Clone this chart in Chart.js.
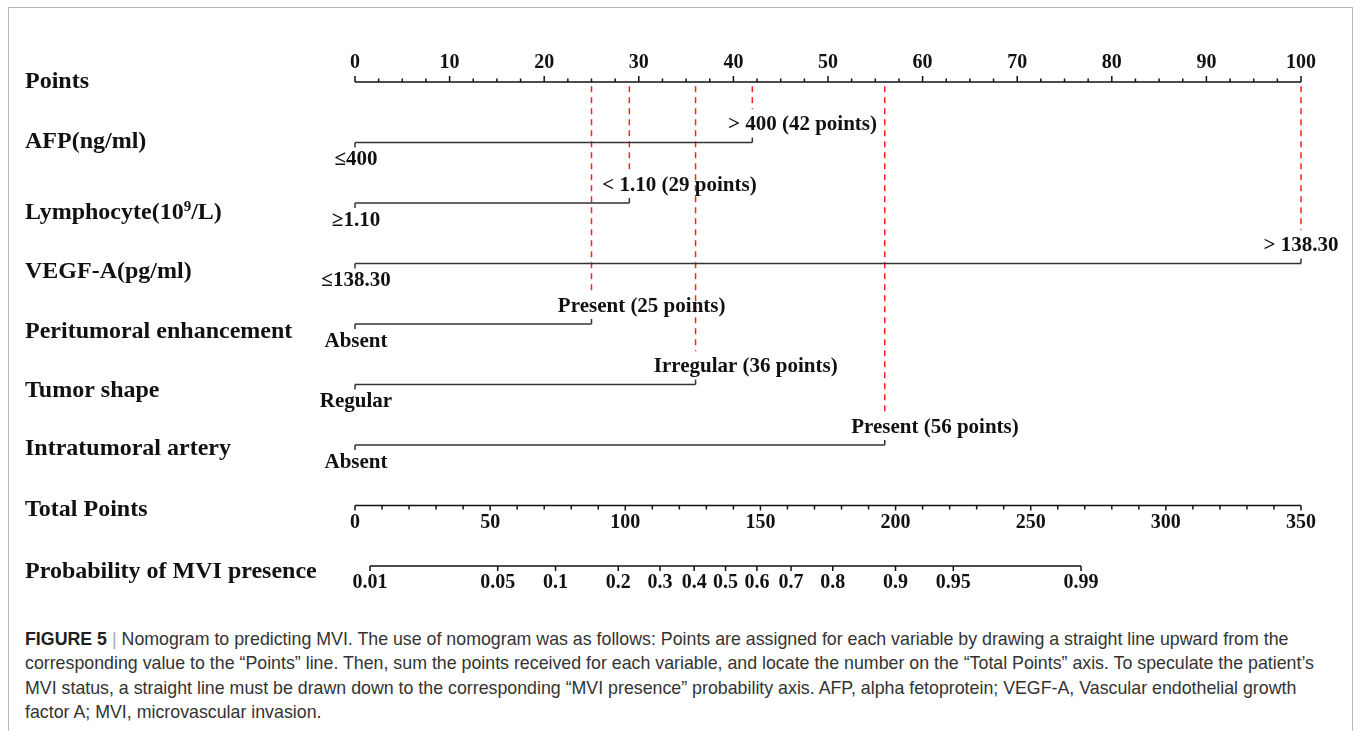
<!DOCTYPE html>
<html>
<head>
<meta charset="utf-8">
<script src="https://cdn.jsdelivr.net/npm/chart.js@4.4.1/dist/chart.umd.min.js"></script>
<style>
  body { margin: 0; background: #fff; overflow: hidden; }
  #frame { position: absolute; left: 8px; top: 7px; width: 1343px; height: 760px; border: 1px solid #b8b8b8; border-bottom: none; }
  #wrap { position: absolute; left: 0; top: 0; width: 1360px; height: 600px; }
  #caption { position: absolute; left: 25px; top: 627px; font-family: "Liberation Sans", Arial, sans-serif; font-size: 17.8px; line-height: 24.3px; color: #333; white-space: nowrap; }
  #caption b { color: #231f20; }
  #caption .sep { color: #aaa; }
</style>
</head>
<body>
<div id="frame"></div>
<div id="wrap"><canvas id="nomo" width="1360" height="600"></canvas></div>
<div id="caption"><b>FIGURE 5</b> <span class="sep">|</span> Nomogram to predicting MVI. The use of nomogram was as follows: Points are assigned for each variable by drawing a straight line upward from the<br>corresponding value to the “Points” line. Then, sum the points received for each variable, and locate the number on the “Total Points” axis. To speculate the patient’s<br>MVI status, a straight line must be drawn down to the corresponding “MVI presence” probability axis. AFP, alpha fetoprotein; VEGF-A, Vascular endothelial growth<br>factor A; MVI, microvascular invasion.</div>
<script>
// nomogram values
const rowLabels = ['Points', 'AFP(ng/ml)', 'Lymphocyte(10^9/L)', 'VEGF-A(pg/ml)', 'Peritumoral enhancement', 'Tumor shape', 'Intratumoral artery', 'Total Points', 'Probability of MVI presence'];
const lowLevels = ['≤400', '≥1.10', '≤138.30', 'Absent', 'Regular', 'Absent'];
const highLevels = ['> 400', '< 1.10', '> 138.30', 'Present', 'Irregular', 'Present'];
const variablePoints = [42, 29, 100, 25, 36, 56];
const pointsNote = [true, true, false, true, true, true];
const pointTicks = [0, 10, 20, 30, 40, 50, 60, 70, 80, 90, 100];
const totalTicks = [0, 50, 100, 150, 200, 250, 300, 350];
const probTicks = [0.01, 0.05, 0.1, 0.2, 0.3, 0.4, 0.5, 0.6, 0.7, 0.8, 0.9, 0.95, 0.99];
const probLabels = ['0.01', '0.05', '0.1', '0.2', '0.3', '0.4', '0.5', '0.6', '0.7', '0.8', '0.9', '0.95', '0.99'];
// linear predictor = b0 + b1 * total points
const b0 = -4.789;
const b1 = 0.034935;

// label y offsets (px) from each row's line
const labelShift = [-0.5, -1, 10, 8.5, 7.5, 6, 3.5, 4, 6];

const serif = '"Liberation Serif", "Times New Roman", serif';
const ink = '#111';

function totalForProb(p) {
  return (Math.log(p / (1 - p)) - b0) / b1;
}

const datasets = [];
function addLine(data, axis, color, width, dash) {
  datasets.push({
    data: data,
    xAxisID: axis,
    showLine: true,
    borderColor: color,
    borderWidth: width,
    borderDash: dash || [],
    pointRadius: 0,
    clip: false
  });
}

// points axis
addLine([{ x: 0, y: 0 }, { x: 100, y: 0 }], 'x', ink, 1.6);
// variable rows
variablePoints.forEach((p, i) => {
  addLine([{ x: 0, y: i + 1 }, { x: p, y: i + 1 }], 'x', '#333', 1.5);
});
// total points and probability axes
addLine([{ x: 0, y: 7 }, { x: 350, y: 7 }], 'xTotal', ink, 1.6);
addLine([{ x: totalForProb(0.01), y: 8 }, { x: totalForProb(0.99), y: 8 }], 'xTotal', ink, 1.6);
// red guide lines up to the points axis
variablePoints.forEach((p, i) => {
  addLine([{ x: p, y: 0.07 }, { x: p, y: i + 1 - 0.55 }], 'x', '#ff2020', 1.5, [6, 5]);
});

const nomogramPlugin = {
  id: 'nomogram',
  afterDatasetsDraw(chart) {
    const ctx = chart.ctx;
    const xs = chart.scales.x, xt = chart.scales.xTotal, ys = chart.scales.y;
    ctx.save();
    ctx.strokeStyle = ink;
    ctx.fillStyle = ink;
    ctx.lineWidth = 1.5;

    function tick(px, py, len) {
      ctx.beginPath();
      ctx.moveTo(px, py);
      ctx.lineTo(px, py + len);
      ctx.stroke();
    }

    // points axis ticks (minor every 2.5)
    const y0 = ys.getPixelForValue(0);
    for (let v = 0; v <= 100; v += 2.5) {
      tick(xs.getPixelForValue(v), y0, v % 10 === 0 ? -6 : -3.5);
    }
    ctx.font = 'bold 20px ' + serif;
    ctx.textAlign = 'center';
    ctx.textBaseline = 'middle';
    pointTicks.forEach(v => ctx.fillText(String(v), xs.getPixelForValue(v), y0 - 19));

    // variable rows
    variablePoints.forEach((p, i) => {
      const py = ys.getPixelForValue(i + 1);
      const x0 = xs.getPixelForValue(0), x1 = xs.getPixelForValue(p);
      ctx.strokeStyle = '#333';
      tick(x0, py, 5);
      tick(x1, py, -5);
      ctx.font = 'bold 21px ' + serif;
      ctx.textAlign = 'center';
      ctx.fillText(lowLevels[i], x0 + 1, py + 17.5);
      const w = ctx.measureText(highLevels[i]).width;
      ctx.textAlign = 'left';
      ctx.fillText(highLevels[i], x1 - w / 2, py - 17.5);
      if (pointsNote[i]) {
        ctx.fillText(' (' + p + ' points)', x1 - w / 2 + w, py - 17.5);
      }
    });
    ctx.strokeStyle = ink;

    // total points ticks (minor every 10)
    const y7 = ys.getPixelForValue(7);
    for (let v = 0; v <= 350; v += 10) {
      tick(xt.getPixelForValue(v), y7, v % 50 === 0 ? 5 : 4);
    }
    ctx.font = 'bold 20px ' + serif;
    ctx.textAlign = 'center';
    totalTicks.forEach(v => ctx.fillText(String(v), xt.getPixelForValue(v), y7 + 17));

    // probability ticks
    const y8 = ys.getPixelForValue(8);
    probTicks.forEach((p, i) => {
      const px = xt.getPixelForValue(totalForProb(p));
      tick(px, y8, 5);
      ctx.fillText(probLabels[i], px, y8 + 17);
    });

    // row titles on the left
    ctx.textAlign = 'left';
    const big = 'bold 24px ' + serif;
    ctx.font = big;
    rowLabels.forEach((lab, i) => {
      const py = ys.getPixelForValue(i) + labelShift[i];
      if (lab.indexOf('^') >= 0) {
        const parts = lab.split('^');
        const base = parts[0];
        const sup = parts[1].charAt(0);
        const rest = parts[1].slice(1);
        ctx.font = big;
        ctx.fillText(base, 25, py);
        let px = 25 + ctx.measureText(base).width;
        ctx.font = 'bold 15px ' + serif;
        ctx.fillText(sup, px, py - 6);
        px += ctx.measureText(sup).width;
        ctx.font = big;
        ctx.fillText(rest, px, py);
      } else {
        ctx.fillText(lab, 25, py);
      }
    });
    ctx.restore();
  }
};

new Chart(document.getElementById('nomo'), {
  type: 'scatter',
  data: { datasets: datasets },
  options: {
    responsive: false,
    animation: false,
    devicePixelRatio: 1,
    layout: { padding: { left: 355, right: 59, top: 82, bottom: 34 } },
    scales: {
      x: { type: 'linear', min: 0, max: 100, display: false },
      xTotal: { type: 'linear', axis: 'x', min: 0, max: 350, display: false },
      y: { type: 'linear', min: 0, max: 8, reverse: true, display: false }
    },
    plugins: { legend: { display: false }, tooltip: { enabled: false } },
    events: []
  },
  plugins: [nomogramPlugin]
});
</script>
</body>
</html>
